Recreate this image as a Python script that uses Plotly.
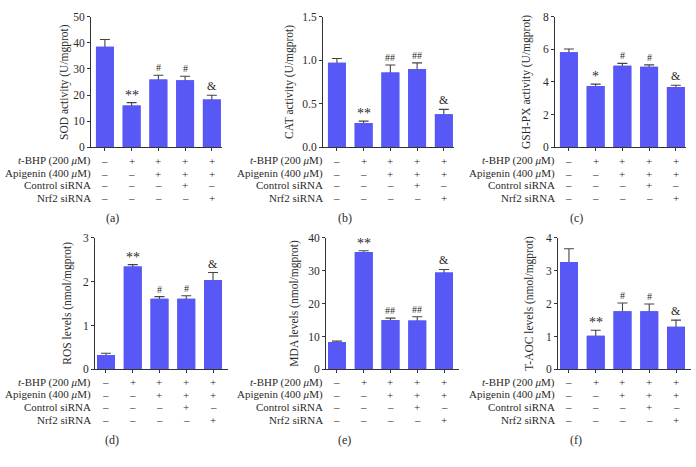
import plotly.graph_objects as go

W, H = 696, 467

groups = ["Control", "t-BHP", "t-BHP+Apigenin", "t-BHP+Apigenin+Control siRNA", "t-BHP+Apigenin+Nrf2 siRNA"]

sod = [38.5, 16.0, 26.0, 25.7, 18.3]
sod_err = [2.8, 1.1, 1.6, 1.5, 1.6]
cat = [0.97, 0.28, 0.86, 0.90, 0.38]
cat_err = [0.05, 0.02, 0.085, 0.07, 0.055]
gsh = [5.82, 3.75, 5.0, 4.93, 3.7]
gsh_err = [0.2, 0.12, 0.14, 0.12, 0.1]
ros = [0.33, 2.35, 1.61, 1.61, 2.04]
ros_err = [0.04, 0.04, 0.05, 0.07, 0.17]
mda = [8.3, 35.7, 15.0, 14.9, 29.5]
mda_err = [0.3, 0.4, 0.6, 1.1, 0.9]
taoc = [3.27, 1.02, 1.77, 1.77, 1.3]
taoc_err = [0.4, 0.17, 0.25, 0.22, 0.2]

sod_sig = ["", "**", "#", "#", "&"]
cat_sig = ["", "**", "##", "##", "&"]
gsh_sig = ["", "*", "#", "#", "&"]
ros_sig = ["", "**", "#", "#", "&"]
mda_sig = ["", "**", "##", "##", "&"]
taoc_sig = ["", "**", "#", "#", "&"]

row_labels = ["<i>t</i>-BHP (200 <i>μ</i>M)", "Apigenin (400 <i>μ</i>M)", "Control siRNA", "Nrf2 siRNA"]
tbhp = ["–", "+", "+", "+", "+"]
apigenin = ["–", "–", "+", "+", "+"]
control_sirna = ["–", "–", "–", "+", "–"]
nrf2_sirna = ["–", "–", "–", "–", "+"]
sign_rows = [tbhp, apigenin, control_sirna, nrf2_sirna]

titles = ["SOD activity (U/mgprot)", "CAT activity (U/mgprot)", "GSH-PX activity (U/mgprot)",
          "ROS levels (nmol/mgprot)", "MDA levels (nmol/mgprot)", "T-AOC levels (nmol/mgprot)"]
panel_tags = ["(a)", "(b)", "(c)", "(d)", "(e)", "(f)"]
ymax = [50, 1.5, 8, 3, 40, 4]
dticks = [10, 0.5, 2, 1, 10, 1]
tickfmt = ["d", ".1f", "d", "d", "d", "d"]

values = [sod, cat, gsh, ros, mda, taoc]
errors = [sod_err, cat_err, gsh_err, ros_err, mda_err, taoc_err]
sigs = [sod_sig, cat_sig, gsh_sig, ros_sig, mda_sig, taoc_sig]

BAR = "#5858F6"
AX = "#333333"
TXT = "#2a2a2a"
FONT = "Liberation Serif"
SIG_SIZE = {"*": 14, "**": 14, "#": 10, "##": 10, "&": 12}

# pixel layout
panel_x0 = [91, 323, 555, 95, 326, 558]        # y-axis line x
panel_x1 = [222, 454, 686, 228, 459, 691]
panel_top = [11, 11, 11, 238, 238, 238]
panel_bot = [145, 145, 145, 373, 373, 373]
x_ranges = [[-0.52, 4.38]] * 3 + [[-0.41, 4.56]] * 3
title_x = [65, 290, 527, 68, 295, 530]
label_right = [92, 324, 556, 92, 324, 556]
row_y = [[159, 172, 184, 197]] * 3 + [[386, 399, 412, 425]] * 3
tag_pos = [(112, 218), (345, 218), (576, 218), (112, 445), (344, 445), (576, 445)]

fig = go.Figure()
annotations = []
xs = list(range(5))

for k in range(6):
    n = "" if k == 0 else str(k + 1)
    xa, ya = "x" + n, "y" + n
    # bars with error bars (lower half hidden by the overlay copy)
    fig.add_trace(go.Bar(x=xs, y=values[k], xaxis=xa, yaxis=ya, width=0.67,
                         marker=dict(color=BAR, line=dict(width=0)),
                         error_y=dict(type="data", array=errors[k], visible=True,
                                      color="#444444", thickness=1.1, width=5),
                         showlegend=False, hoverinfo="skip"))
    fig.add_trace(go.Bar(x=xs, y=values[k], xaxis=xa, yaxis=ya, width=0.67,
                         marker=dict(color=BAR, line=dict(width=0)),
                         showlegend=False, hoverinfo="skip"))
    fig.layout["xaxis" + n] = dict(
        domain=[panel_x0[k] / W, panel_x1[k] / W], range=x_ranges[k], anchor=ya,
        showline=True, linecolor=AX, linewidth=1, ticks="outside", ticklen=3,
        tickcolor=AX, tickvals=xs, showticklabels=False, showgrid=False, zeroline=False,
        fixedrange=True)
    fig.layout["yaxis" + n] = dict(
        domain=[1 - panel_bot[k] / H, 1 - panel_top[k] / H], range=[0, ymax[k]], anchor=xa,
        showline=True, linecolor=AX, linewidth=1, ticks="outside", ticklen=3,
        tickcolor=AX, dtick=dticks[k], tick0=0, tickformat=tickfmt[k],
        tickfont=dict(family=FONT, size=11.5, color=TXT), showgrid=False, zeroline=False,
        fixedrange=True)
    # y title
    annotations.append(dict(text=titles[k], xref="paper", yref="paper",
                            x=title_x[k] / W, y=1 - (panel_top[k] + panel_bot[k]) / 2 / H,
                            textangle=-90, showarrow=False, xanchor="center", yanchor="middle",
                            font=dict(family=FONT, size=11.5, color=TXT)))
    # significance marks
    for i in xs:
        s = sigs[k][i]
        if s:
            annotations.append(dict(text=s, xref=xa, yref=ya, x=i,
                                    y=values[k][i] + errors[k][i], yanchor="bottom",
                                    showarrow=False, yshift=-2 if "*" in s else 0,
                                    font=dict(family=FONT, size=SIG_SIZE[s], color=TXT)))
    # row labels and signs
    for r in range(4):
        yy = 1 - row_y[k][r] / H
        annotations.append(dict(text=row_labels[r], xref="paper", yref="paper",
                                x=label_right[k] / W, y=yy, xanchor="right", yanchor="middle",
                                showarrow=False, borderpad=0,
                                font=dict(family=FONT, size=11, color=TXT)))
        for i in xs:
            annotations.append(dict(text=sign_rows[r][i], xref=xa, yref="paper", x=i, y=yy,
                                    xanchor="center", yanchor="middle", showarrow=False,
                                    borderpad=0,
                                    font=dict(family=FONT, size=11, color=TXT)))
    annotations.append(dict(text=panel_tags[k], xref="paper", yref="paper",
                            x=tag_pos[k][0] / W, y=1 - tag_pos[k][1] / H,
                            xanchor="center", yanchor="middle", showarrow=False,
                            font=dict(family=FONT, size=12, color=TXT)))

fig.update_layout(width=W, height=H, margin=dict(l=0, r=0, t=0, b=0),
                  paper_bgcolor="white", plot_bgcolor="white", barmode="overlay",
                  annotations=annotations, font=dict(family=FONT, color=TXT))
fig.write_html("out.html", config={"displayModeBar": False},
               post_script="document.body.style.margin='0';document.body.style.padding='0';")
